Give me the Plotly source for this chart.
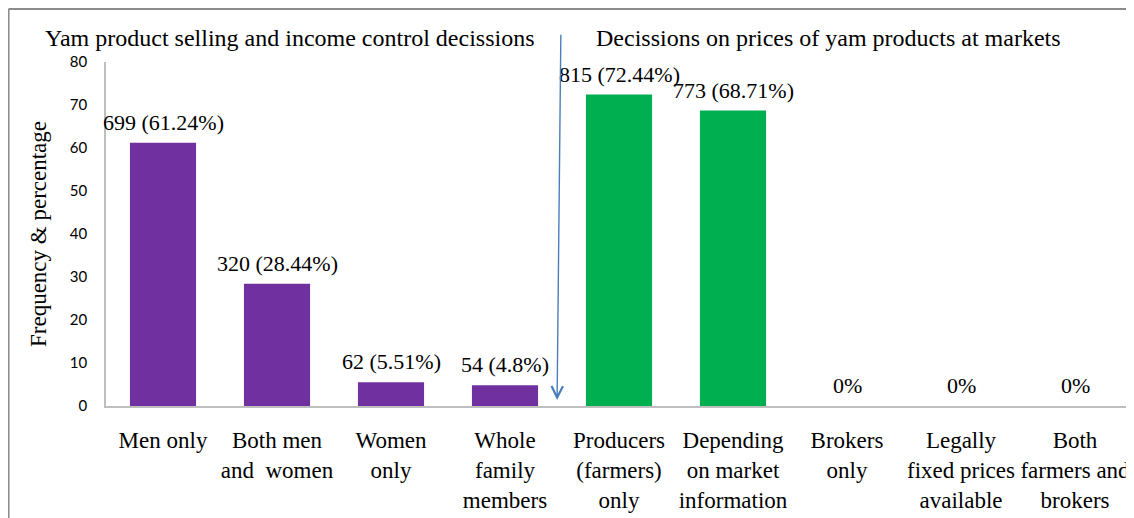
import plotly.graph_objects as go

categories = ["Men only", "Both men<br>and  women", "Women<br>only", "Whole<br>family<br>members",
              "Producers<br>(farmers)<br>only", "Depending<br>on market<br>information", "Brokers<br>only",
              "Legally<br>fixed prices<br>available", "Both<br>farmers and<br>brokers"]
percentages = [61.24, 28.44, 5.51, 4.8, 72.44, 68.71, 0, 0, 0]
frequencies = [699, 320, 62, 54, 815, 773, 0, 0, 0]
groups = ["sell", "sell", "sell", "sell", "price", "price", "price", "price", "price"]
group_colors = {"sell": "#7030A0", "price": "#00B050"}
y_ticks = [0, 10, 20, 30, 40, 50, 60, 70, 80]
title_left = "Yam product selling and income control decissions"
title_right = "Decissions on prices of yam products at markets"

labels = [f"{f} ({p:g}%)" if f > 0 else "0%" for f, p in zip(frequencies, percentages)]
xs = list(range(len(categories)))

SERIF = "Liberation Serif, Times New Roman, serif"

fig = go.Figure()
fig.add_trace(go.Bar(
    x=xs, y=percentages,
    marker=dict(color=[group_colors[g] for g in groups], line=dict(width=0)),
    width=0.58,
    hoverinfo="skip",
))

annotations = [
    dict(text=t, xref="x", yref="y", x=x, y=p, yanchor="bottom", xanchor="center",
         yshift=6, showarrow=False, font=dict(family=SERIF, size=22, color="#000"))
    for x, p, t in zip(xs, percentages, labels)
]
annotations += [
    dict(text=title_left, xref="x", yref="paper", x=1.11, y=1.0698,
         showarrow=False, font=dict(family=SERIF, size=24, color="#000"), xanchor="center", yanchor="middle"),
    dict(text=title_right, xref="x", yref="paper", x=5.84, y=1.0698,
         showarrow=False, font=dict(family=SERIF, size=24, color="#000"), xanchor="center", yanchor="middle"),
    dict(text="", xref="x", yref="y", x=3.457, y=1.4, axref="x", ayref="y", ax=3.49, ay=86.7,
         showarrow=True, arrowhead=5, arrowsize=1.6, arrowwidth=1.4, arrowcolor="#4A7EBB", standoff=0),
]

fig.update_layout(
    width=1126, height=510,
    margin=dict(l=98, r=2, t=54, b=112, autoexpand=False),
    paper_bgcolor="white", plot_bgcolor="white",
    showlegend=False,
    xaxis=dict(
        tickmode="array", tickvals=xs, ticktext=categories,
        range=[-0.5, 8.5],
        showgrid=False, zeroline=False, automargin=False,
        showline=True, linecolor="#BFBFBF", linewidth=1.5,
        ticks="", tickfont=dict(family=SERIF, size=23, color="#000"),
        ticklabelstandoff=13, ticklabeloverflow="allow",
    ),
    yaxis=dict(
        range=[0, 80], tickvals=y_ticks,
        showgrid=False, zeroline=False, automargin=False,
        showline=True, linecolor="#BFBFBF", linewidth=1.5,
        ticks="", tickfont=dict(family="Lato", size=15, color="#000"),
        ticklabelstandoff=14,
        title=dict(text="Frequency & percentage", font=dict(family=SERIF, size=23, color="#000"), standoff=17),
    ),
    annotations=annotations,
    shapes=[
        dict(type="line", xref="paper", yref="paper", x0=-0.0950, y0=-0.6, x1=-0.0950, y1=1.154,
             line=dict(color="#8C8C8C", width=2), layer="below"),
        dict(type="line", xref="paper", yref="paper", x0=-0.0950, y0=1.154, x1=1.2, y1=1.154,
             line=dict(color="#8C8C8C", width=2), layer="below"),
    ],
)

fig.write_html("out.html")
